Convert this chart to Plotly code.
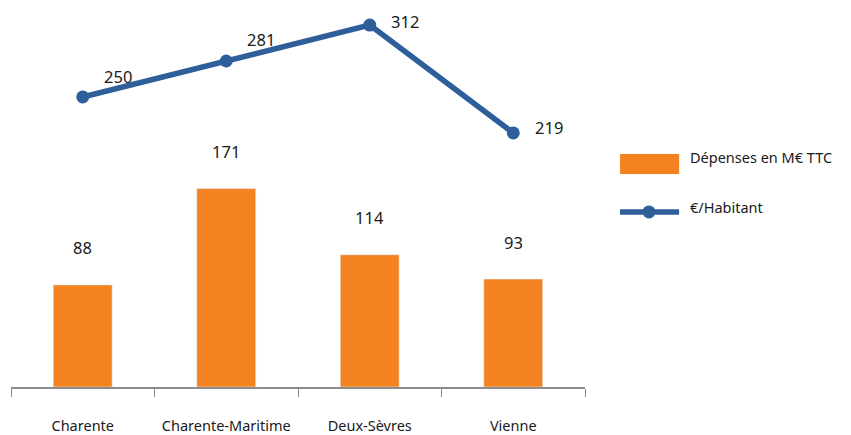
import plotly.graph_objects as go

departements = ["Charente", "Charente-Maritime", "Deux-Sèvres", "Vienne"]
depenses = [88, 171, 114, 93]
par_habitant = [250, 281, 312, 219]

orange = "#F58220"
bleu = "#2E5F9A"
font = "Noto Sans"
txt = "#1a1a1a"

fig = go.Figure()

fig.add_trace(go.Bar(
    x=departements, y=depenses, name="Dépenses en M€ TTC",
    marker_color=orange, width=0.41,
))

fig.add_trace(go.Scatter(
    x=departements, y=par_habitant, name="€/Habitant",
    mode="lines+markers", line=dict(color=bleu, width=5.5),
    marker=dict(size=13, color=bleu), cliponaxis=False,
))

# valeurs des barres
for d, v in zip(departements, depenses):
    fig.add_annotation(x=d, y=v, text=str(v), showarrow=False, yshift=37,
                       font=dict(size=16.5, color=txt))

# valeurs de la courbe, décalées à droite des points
label_shift = [(35, 20), (35, 22), (35, 4), (36, 5)]
for d, v, (dx, dy) in zip(departements, par_habitant, label_shift):
    fig.add_annotation(x=d, y=v, text=str(v), showarrow=False,
                       xshift=dx, yshift=dy, font=dict(size=16.5, color=txt))

# légende dessinée à la main (grands symboles comme dans l'original)
fig.add_shape(type="rect", xref="paper", yref="paper",
              x0=1.061, x1=1.164, y0=0.574, y1=0.628,
              fillcolor=orange, line_width=0)
fig.add_shape(type="line", xref="paper", yref="paper",
              x0=1.061, x1=1.164, y0=0.472, y1=0.472,
              line=dict(color=bleu, width=5.5))
fig.add_shape(type="circle", xref="paper", yref="paper",
              xsizemode="pixel", ysizemode="pixel",
              xanchor=1.1115, yanchor=0.472,
              x0=-6.5, x1=6.5, y0=-6.5, y1=6.5,
              fillcolor=bleu, line_width=0)
fig.add_annotation(xref="paper", yref="paper", x=1.179, y=0.62,
                   xanchor="left", text="Dépenses en M€ TTC", showarrow=False,
                   font=dict(size=14.5, color=txt))
fig.add_annotation(xref="paper", yref="paper", x=1.179, y=0.485,
                   xanchor="left", text="€/Habitant", showarrow=False,
                   font=dict(size=14.5, color=txt))

fig.update_layout(
    width=851, height=435,
    margin=dict(l=3, r=274, t=8, b=56),
    plot_bgcolor="white", paper_bgcolor="white",
    font=dict(family=font, size=15, color=txt),
    showlegend=False,
    xaxis=dict(showline=True, linecolor="#8c8c8c", linewidth=1.5,
               ticks="outside", tickson="boundaries", ticklen=8, tickcolor="#8c8c8c",
               ticklabelstandoff=25, tickfont=dict(size=14.5)),
    yaxis=dict(range=[0, 319.8], visible=False),
)

fig.write_html("out.html")
